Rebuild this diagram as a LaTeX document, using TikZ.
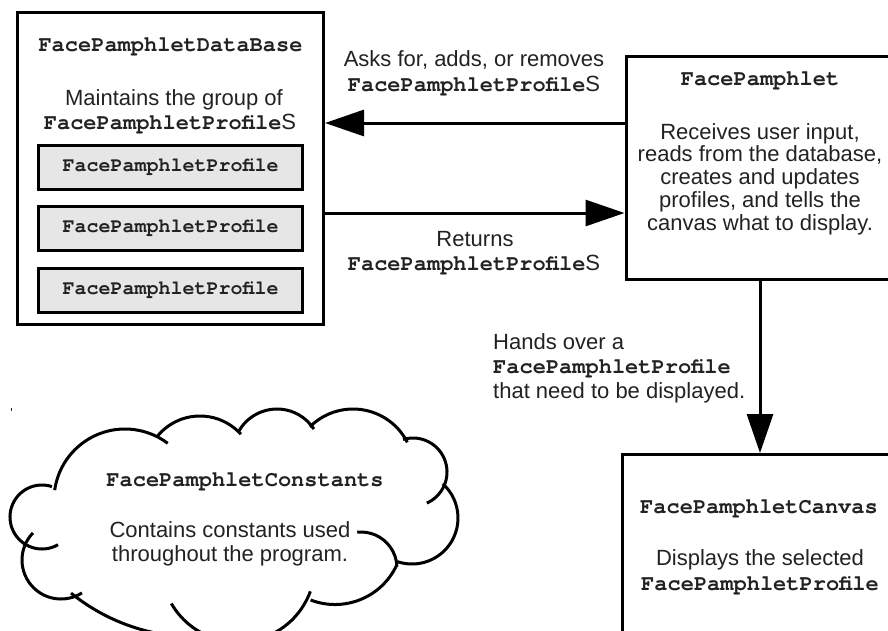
\documentclass[tikz,border=0pt]{standalone}
\usepackage{fontspec}
\setmainfont{Liberation Sans}
\setmonofont{texgyrecursor}[Extension=.otf, UprightFont=*-regular, BoldFont=*-bold]
\usetikzlibrary{arrows.meta}
\definecolor{txt}{HTML}{222222}
\definecolor{innerfill}{HTML}{E6E6E6}
\newcommand\cname[1]{{\ttfamily\bfseries #1}}
\newcommand\cloudarc[5]{\draw[cloudline] (#1,#2) ++(#4:#3) arc[start angle=#4, end angle=#5, radius=#3];}
\begin{document}
\begin{tikzpicture}[x=1pt,y=-1pt,
  box/.style={draw=black, line width=3pt, fill=white, rectangle, inner sep=0pt},
  sub/.style={draw=black, line width=3pt, fill=innerfill, inner sep=0pt,
    minimum width=264pt, minimum height=44pt,
    font=\fontsize{20}{22}\selectfont\ttfamily\bfseries, text=txt},
  lbl/.style={inner sep=0pt, anchor=base, font=\fontsize{22}{24}\selectfont, text=txt},
  lblm/.style={lbl, font=\fontsize{22}{24}\selectfont\ttfamily\bfseries},
  arr/.style={line width=3pt, -{Triangle[length=39pt,width=26pt]}},
  cloudline/.style={line width=3pt, line cap=butt},
]
\useasboundingbox (0,0) rectangle (888,630);
\fill[white] (0,0) rectangle (888,630);
\clip (0,0) rectangle (888,630);

% database box
\node[box, minimum width=306pt, minimum height=312pt] (db) at (170.5,168.5) {};
\node[lblm] (dbt) at (170.5,51.5) {FacePamphletDataBase};
\node[lbl] (dbd1) at (174,105.5) {Maintains the group of};
\node[lbl] (dbd2) at (170,129.8) {\cname{FacePamphletProfile}S};
\node[sub] (p1) at (170.7,167) {FacePamphletProfile};
\node[sub] (p2) at (170.7,228) {FacePamphletProfile};
\node[sub] (p3) at (170.7,290) {FacePamphletProfile};

% FacePamphlet box
\node[box, minimum width=268pt, minimum height=223pt] (fp) at (760,168) {};
\node[lblm] (fpt) at (760,85) {FacePamphlet};
\node[lbl] (fp1) at (760,139) {Receives user input,};
\node[lbl] (fp2) at (760,161.75) {reads from the database,};
\node[lbl] (fp3) at (760,184.5) {creates and updates};
\node[lbl] (fp4) at (760,207.25) {profiles, and tells the};
\node[lbl] (fp5) at (760,230) {canvas what to display.};

% canvas box
\node[box, minimum width=274pt, minimum height=246pt] (cv) at (759,577.5) {};
\node[lblm] (cvt) at (759,513) {FacePamphletCanvas};
\node[lbl] (cv1) at (760,565) {Displays the selected};
\node[lbl] (cv2) at (760,590) {\cname{FacePamphletProfile}};

% arrow labels
\node[lbl] (a1) at (474,66.7) {Asks for, adds, or removes};
\node[lbl] (a2) at (474,91.7) {\cname{FacePamphletProfile}S};
\node[lbl] (r1) at (475,246.7) {Returns};
\node[lbl] (r2) at (474,270) {\cname{FacePamphletProfile}S};
\node[lbl, anchor=base west] (h1) at (493,349.3) {Hands over a};
\node[lbl, anchor=base west] (h2) at (493,373.3) {\cname{FacePamphletProfile}};
\node[lbl, anchor=base west] (h3) at (493,398.3) {that need to be displayed.};

% arrows
\coordinate (t1) at ([yshift=45pt]fp.west);
\coordinate (t2) at ([yshift=-45pt]fp.west);
\draw[arr] (t1) -- (t1 -| db.east);
\draw[arr] (t2 -| db.east) -- (t2);
\draw[arr] (fp.south) -- (fp.south |- cv.north);

% cloud
\cloudarc{125}{500}{71}{-172}{-53}
\cloudarc{200}{471}{55}{-140}{-42}
\cloudarc{277}{453}{44}{-150}{-33}
\cloudarc{353}{470}{61}{-135}{-27}
\cloudarc{413}{472}{34}{-107}{66}
\cloudarc{412}{518}{46}{-48}{108}
\cloudarc{361}{568}{36}{-96}{-2}
\cloudarc{335}{536.5}{68}{25}{111}
\cloudarc{238}{565}{77}{20}{150}
\cloudarc{195}{440}{197}{129}{80}
\cloudarc{61}{560}{39}{-136}{-302.5}
\cloudarc{42}{517}{32}{-72}{-300}
\node[lblm] (ct) at (245,486) {FacePamphletConstants};
\node[lbl] (c1) at (230,537.3) {Contains constants used};
\node[lbl] (c2) at (230,561.7) {throughout the program.};

% small mark
\draw[line width=1.2pt, txt] (11.5,407.5) -- (11.5,411);
\end{tikzpicture}
\end{document}
